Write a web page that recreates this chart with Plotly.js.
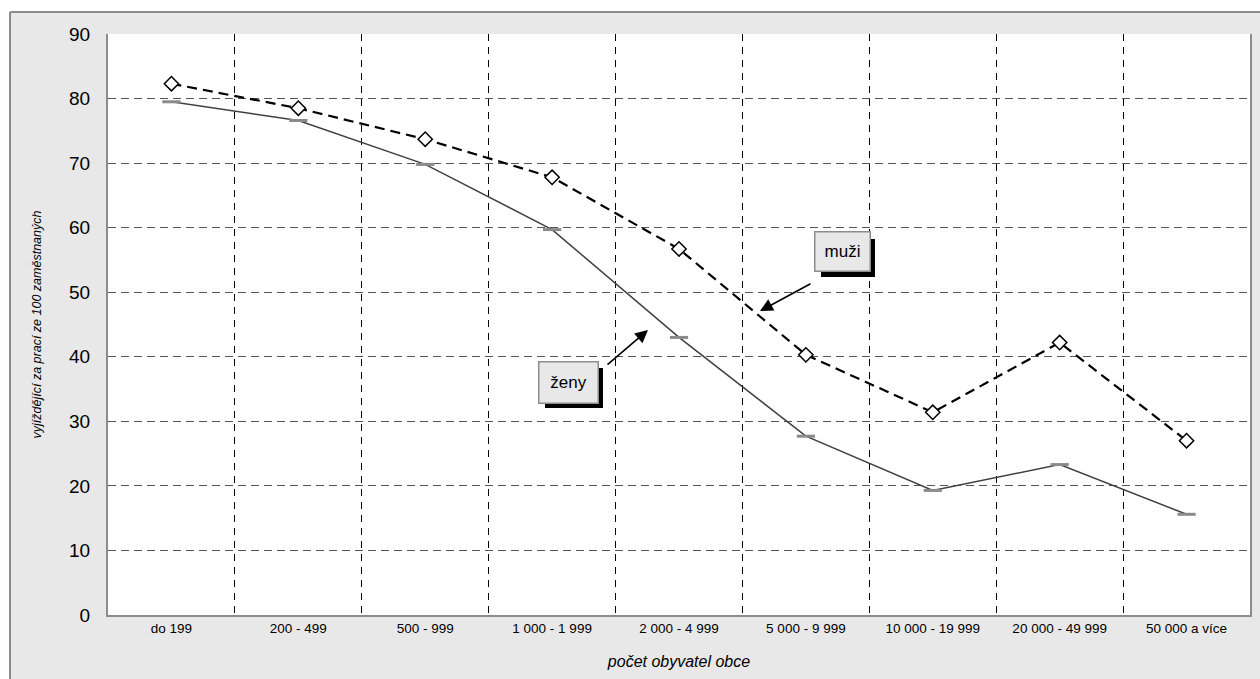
<!DOCTYPE html>
<html>
<head>
<meta charset="utf-8">
<script src="https://cdn.plot.ly/plotly-3.0.1.min.js"></script>
<style>html,body{margin:0;padding:0;background:#fff;}#chart{width:1260px;height:679px;}</style>
</head>
<body>
<div id="chart"></div>
<script>
const categories = ["do 199", "200 - 499", "500 - 999", "1 000 - 1 999", "2 000 - 4 999", "5 000 - 9 999", "10 000 - 19 999", "20 000 - 49 999", "50 000 a více"];
const muzi = [82.3, 78.5, 73.7, 67.8, 56.7, 40.3, 31.4, 42.2, 27.0];
const zeny = [79.5, 76.6, 69.8, 59.7, 43.0, 27.7, 19.3, 23.3, 15.6];
const yTicks = [0, 10, 20, 30, 40, 50, 60, 70, 80, 90];
const seriesNames = ["muži", "ženy"];

const W = 1260, H = 679;
const mL = 108, mR = 10, mT = 34, mB = 64;
const pw = W - mL - mR, ph = H - mT - mB;
const px = x => (x - mL) / pw;
const py = y => (H - mB - y) / ph;

const FONT = "Arial, 'Liberation Sans', sans-serif";

const traces = [
  {
    x: categories, y: zeny, name: seriesNames[1], type: "scatter", mode: "lines+markers",
    line: {color: "#404040", width: 1.5},
    marker: {symbol: "line-ew", size: 13, line: {color: "#8a8a8a", width: 3}}
  },
  {
    x: categories, y: muzi, name: seriesNames[0], type: "scatter", mode: "lines+markers",
    line: {color: "#000", width: 2.2, dash: "10px,6px"},
    marker: {symbol: "diamond", size: 11, color: "#fff", line: {color: "#000", width: 1.5}}
  }
];

function boxAnn(text, cx, cy, w, h) {
  return [
    {xref: "paper", yref: "paper", x: px(cx + 6), y: py(cy + 6), text: "", showarrow: false,
     width: w, height: h, bgcolor: "#000", borderpad: 0, borderwidth: 0},
    {xref: "paper", yref: "paper", x: px(cx), y: py(cy), text: text, showarrow: false,
     width: w, height: h, bgcolor: "#e8e8e8", bordercolor: "#8c8c8c", borderwidth: 1.5, borderpad: 0,
     font: {family: FONT, size: 17, color: "#000"}}
  ];
}
function arrowAnn(hx, hy, tx, ty) {
  return {xref: "paper", yref: "paper", x: px(hx), y: py(hy), ax: tx - hx, ay: ty - hy,
    axref: "pixel", ayref: "pixel", text: "", showarrow: true,
    arrowhead: 2, arrowsize: 1.6, arrowwidth: 1.6, arrowcolor: "#000"};
}

const annotations = [
  ...boxAnn(seriesNames[0], 842, 252, 54, 38),
  ...boxAnn(seriesNames[1], 568, 382, 58, 40),
  arrowAnn(760, 311, 812, 283),
  arrowAnn(648, 330, 606, 366)
];

const shapes = [
  {type: "rect", xref: "paper", yref: "paper", x0: px(-5), x1: px(W + 5), y0: py(12), y1: py(-5),
   fillcolor: "#fff", line: {width: 0}, layer: "below"},
  {type: "rect", xref: "paper", yref: "paper", x0: px(-5), x1: px(10), y0: py(H + 5), y1: py(-5),
   fillcolor: "#fff", line: {width: 0}, layer: "below"},
  {type: "line", xref: "paper", yref: "paper", x0: px(10), x1: px(W + 5), y0: py(12), y1: py(12),
   line: {color: "#8c8c8c", width: 2}},
  {type: "line", xref: "paper", yref: "paper", x0: px(10), x1: px(10), y0: py(12), y1: py(H + 5),
   line: {color: "#8c8c8c", width: 2}}
];

const layout = {
  width: W, height: H,
  margin: {l: mL, r: mR, t: mT, b: mB, pad: 0},
  paper_bgcolor: "#e8e8e8",
  plot_bgcolor: "#fff",
  showlegend: false,
  font: {family: FONT, color: "#000"},
  xaxis: {
    type: "category", range: [-0.5, 8.5], tickson: "boundaries",
    showgrid: true, gridcolor: "#000", gridwidth: 1, griddash: "7px,6px",
    showline: true, linecolor: "#8c8c8c", linewidth: 2, mirror: false,
    ticks: "outside", ticklen: 9, tickcolor: "rgba(0,0,0,0)",
    tickfont: {family: FONT, size: 13.5, color: "#000"},
    title: {text: "<i>počet obyvatel obce</i>", font: {family: FONT, size: 16, color: "#000"}, standoff: 21},
    zeroline: false, fixedrange: true
  },
  yaxis: {
    range: [0, 90], tickvals: yTicks, ticktext: yTicks.map(String),
    showgrid: true, gridcolor: "#555", gridwidth: 1, griddash: "8px,5px",
    showline: true, linecolor: "#8c8c8c", linewidth: 2, mirror: true,
    ticks: "outside", ticklen: 12, tickcolor: "rgba(0,0,0,0)",
    tickfont: {family: FONT, size: 19, color: "#000"},
    title: {text: "<i>vyjíždějící za prací ze 100 zaměstnaných</i>", font: {family: FONT, size: 12.5, color: "#000"}, standoff: 25},
    zeroline: false, fixedrange: true
  },
  annotations: annotations,
  shapes: shapes
};

Plotly.newPlot("chart", traces, layout, {displayModeBar: false, staticPlot: true});
</script>
</body>
</html>
